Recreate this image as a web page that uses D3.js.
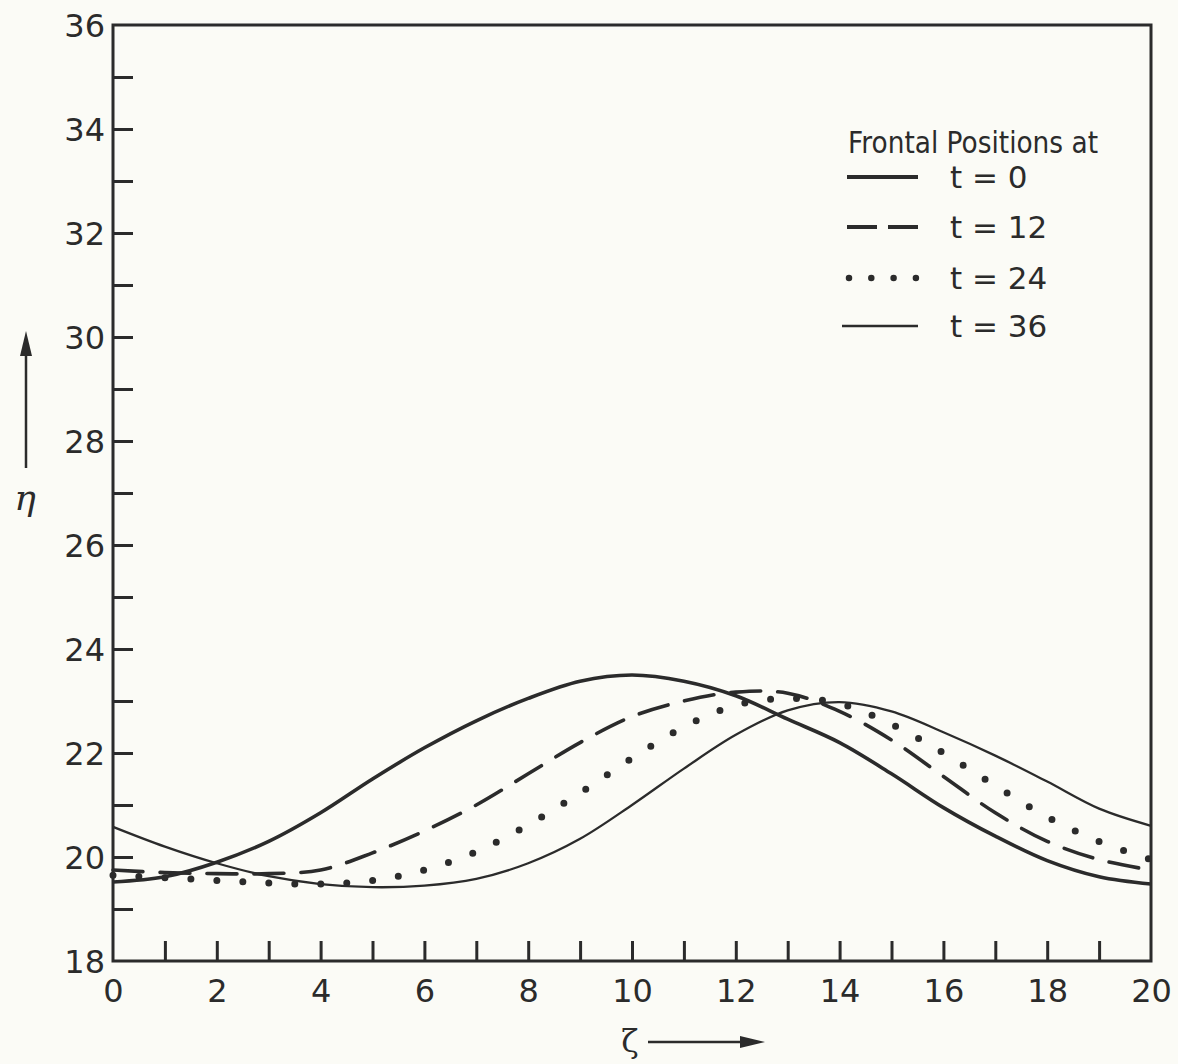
<!DOCTYPE html>
<html>
<head>
<meta charset="utf-8">
<script src="https://cdn.jsdelivr.net/npm/d3@7"></script>
<style>
  body { margin: 0; background: #fbfbf6; }
  svg { display: block; }
  .tick text { font-family: "DejaVu Sans", sans-serif; font-size: 32px; fill: #2b2b2b; }
  .tick line { stroke: #2b2b2b; stroke-width: 3; }
</style>
</head>
<body>
<svg id="grafico" width="1178" height="1064"></svg>
<script>
//positions along the front (zeta)
var zeta = [0, 1, 2, 3, 4, 5, 6, 7, 8, 9, 10, 11, 12, 13, 14, 15, 16, 17, 18, 19, 20];

//eta of the front at each zeta, one array per time
var etaT0  = [19.52, 19.62, 19.9, 20.3, 20.85, 21.5, 22.1, 22.62, 23.05, 23.38, 23.5, 23.38, 23.1, 22.65, 22.2, 21.6, 20.95, 20.4, 19.93, 19.62, 19.48];
var etaT12 = [19.75, 19.7, 19.68, 19.68, 19.75, 20.08, 20.5, 21.0, 21.6, 22.2, 22.7, 23.0, 23.17, 23.15, 22.8, 22.25, 21.55, 20.85, 20.3, 19.95, 19.75];
var etaT24 = [19.65, 19.6, 19.55, 19.5, 19.48, 19.55, 19.75, 20.1, 20.62, 21.23, 21.9, 22.5, 22.92, 23.05, 22.95, 22.55, 22.0, 21.37, 20.77, 20.3, 19.95];
var etaT36 = [20.58, 20.2, 19.88, 19.63, 19.48, 19.42, 19.45, 19.58, 19.88, 20.35, 21.0, 21.7, 22.35, 22.82, 22.98, 22.8, 22.4, 21.95, 21.45, 20.93, 20.6];

//tick values and legend labels
var xTicks = [0, 2, 4, 6, 8, 10, 12, 14, 16, 18, 20];
var yTicks = [18, 20, 22, 24, 26, 28, 30, 32, 34, 36];
var legendTitle = 'Frontal Positions at';
var legendLabels = ['t = 0', 't = 12', 't = 24', 't = 36'];

var ink = '#2b2b2b';
var svg = d3.select('#grafico');

//plot box (window.top is reserved, so other names)
var boxSx = 113, boxDx = 1151, boxSu = 25, boxGiu = 961;

var x = d3.scaleLinear().domain([0, 20]).range([boxSx, boxDx]);
var y = d3.scaleLinear().domain([18, 36]).range([boxGiu, boxSu]);

//style of every curve, same order as the legend
var stili = [
    { data: etaT0,  width: 3.6, dash: null,    cap: 'butt' },
    { data: etaT12, width: 3.6, dash: '30,17', cap: 'round' },
    { data: etaT24, width: 7,   dash: '0,26',  cap: 'round' },
    { data: etaT36, width: 2.3, dash: null,    cap: 'butt' }
];

//function that draws the axes with inward ticks
function disegnaAssi() {
    var assey = d3.axisLeft(y)
        .tickValues(d3.range(18, 37, 1))
        .tickSizeInner(-20)
        .tickSizeOuter(0)
        .tickPadding(8)
        .tickFormat(function(d) { return yTicks.indexOf(d) >= 0 ? d : ''; });

    var assex = d3.axisBottom(x)
        .tickValues(d3.range(0, 21, 1))
        .tickSizeInner(-20)
        .tickSizeOuter(0)
        .tickPadding(18)
        .tickFormat(function(d) { return xTicks.indexOf(d) >= 0 ? d : ''; });

    var gy = svg.append('g').attr('transform', 'translate(' + boxSx + ',0)').call(assey);
    var gx = svg.append('g').attr('transform', 'translate(0,' + boxGiu + ')').call(assex);

    gy.select('.domain').remove();
    gx.select('.domain').remove();
    gy.selectAll('.tick text').attr('dy', '0.36em');

    //no tick marks on the box corners
    gy.selectAll('.tick').filter(function(d) { return d == 18 || d == 36; }).select('line').remove();
    gx.selectAll('.tick').filter(function(d) { return d == 0 || d == 20; }).select('line').remove();

    //frame
    svg.append('rect')
        .attr('x', boxSx).attr('y', boxSu)
        .attr('width', boxDx - boxSx).attr('height', boxGiu - boxSu)
        .attr('fill', 'none').attr('stroke', ink).attr('stroke-width', 3);
}

//function that draws the four frontal positions
function disegnaCurve() {
    var linea = d3.line()
        .x(function(d) { return x(d[0]); })
        .y(function(d) { return y(d[1]); })
        .curve(d3.curveCatmullRom);

    stili.forEach(function(s) {
        var punti = zeta.map(function(z, i) { return [z, s.data[i]]; });
        svg.append('path')
            .datum(punti)
            .attr('d', linea)
            .attr('fill', 'none')
            .attr('stroke', ink)
            .attr('stroke-width', s.width)
            .attr('stroke-linecap', s.cap)
            .attr('stroke-dasharray', s.dash);
    });
}

//function that draws the legend in the upper right corner
function disegnaLegenda() {
    svg.append('text')
        .attr('x', 848).attr('y', 142)
        .attr('dy', '0.36em')
        .attr('textLength', 250)
        .attr('lengthAdjust', 'spacingAndGlyphs')
        .style('font-family', '"DejaVu Sans", sans-serif')
        .style('font-size', '30px')
        .style('fill', ink)
        .text(legendTitle);

    var righe = [177, 227, 278, 326];
    var stiliLegenda = [
        { width: 4.2, dash: null,     cap: 'butt' },
        { width: 4.2, dash: '30,11',  cap: 'butt' },
        { width: 6.5, dash: '0,22.3', cap: 'round' },
        { width: 2.6, dash: null,     cap: 'butt' }
    ];

    legendLabels.forEach(function(lab, i) {
        var s = stiliLegenda[i];
        var x0 = i == 2 ? 849 : (i == 3 ? 842 : 847);
        svg.append('line')
            .attr('x1', x0).attr('x2', 918)
            .attr('y1', righe[i]).attr('y2', righe[i])
            .attr('stroke', ink)
            .attr('stroke-width', s.width)
            .attr('stroke-linecap', s.cap)
            .attr('stroke-dasharray', s.dash);

        svg.append('text')
            .attr('x', 950).attr('y', righe[i])
            .attr('dy', '0.36em')
            .style('font-family', '"DejaVu Sans", sans-serif')
            .style('font-size', '31px')
            .style('fill', ink)
            .text(lab);
    });
}

//function that draws the axis names with their arrows
function disegnaTitoli() {
    //eta, vertical arrow
    svg.append('line')
        .attr('x1', 26).attr('x2', 26)
        .attr('y1', 468).attr('y2', 350)
        .attr('stroke', ink).attr('stroke-width', 2.5);
    svg.append('path')
        .attr('d', 'M26,331 L20,356 L32,356 Z')
        .attr('fill', ink);
    svg.append('text')
        .attr('x', 25).attr('y', 510)
        .attr('text-anchor', 'middle')
        .style('font-family', '"DejaVu Serif", serif')
        .style('font-style', 'italic')
        .style('font-size', '36px')
        .style('fill', ink)
        .text('η');

    //zeta, horizontal arrow
    svg.append('text')
        .attr('x', 630).attr('y', 1052)
        .attr('text-anchor', 'middle')
        .style('font-family', '"DejaVu Serif", serif')
        .style('font-size', '32px')
        .style('fill', ink)
        .text('ζ');
    svg.append('line')
        .attr('x1', 648).attr('x2', 745)
        .attr('y1', 1042).attr('y2', 1042)
        .attr('stroke', ink).attr('stroke-width', 2.5);
    svg.append('path')
        .attr('d', 'M765,1042 L740,1036 L740,1048 Z')
        .attr('fill', ink);
}

disegnaAssi();
disegnaCurve();
disegnaLegenda();
disegnaTitoli();
</script>
</body>
</html>
